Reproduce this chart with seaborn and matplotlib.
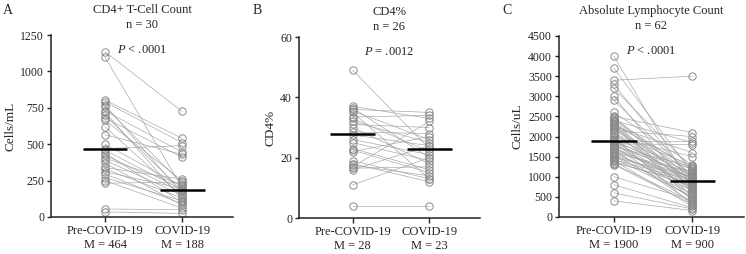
import numpy as np
import pandas as pd
import matplotlib
matplotlib.use("Agg")
import matplotlib.pyplot as plt
import seaborn as sns

# panel A - CD4+ T-cell count (cells/mL), paired pre / covid
cd4_pre = [1135, 1098, 803, 790, 770, 755, 730, 720, 700, 680, 665, 620, 565, 500, 470,
           458, 440, 425, 405, 390, 370, 340, 330, 310, 295, 270, 250, 232, 55, 35]
cd4_covid = [725, 200, 540, 510, 160, 230, 445, 120, 180, 410, 250, 140, 430, 210, 490,
             186, 100, 170, 220, 150, 80, 260, 130, 195, 90, 110, 60, 240, 50, 25]

# panel B - CD4%
pct_pre = [49, 37, 36.5, 36, 35.5, 35, 33.5, 33, 32, 31, 30, 28.5, 27.5, 26, 25, 23,
           22.5, 22, 19, 18, 17.5, 17, 16.5, 16, 11, 4]
pct_covid = [23, 33, 20, 35, 26, 13, 34, 22, 25, 30, 18, 28, 24, 21, 19, 16,
             15, 27, 13, 12, 14, 32, 17, 24, 20, 4]

# panel C - absolute lymphocyte count (cells/uL)
alc_pre = [4000, 3700, 3400, 3300, 3200, 3000, 2900, 2600, 2500, 2480, 2450, 2420, 2400,
           2380, 2350, 2320, 2300, 2280, 2250, 2220, 2200, 2180, 2150, 2100, 2080, 2050,
           2000, 1980, 1950, 1920, 1900, 1900, 1880, 1850, 1850, 1820, 1800, 1780, 1760,
           1750, 1720, 1700, 1680, 1650, 1620, 1600, 1580, 1550, 1520, 1500, 1480, 1450,
           1420, 1400, 1380, 1350, 1320, 1300, 1000, 800, 600, 400]
alc_covid = [700, 1100, 3500, 900, 1200, 600, 1000, 1300, 2100, 950, 800, 1150, 1850,
             500, 1080, 400, 1220, 880, 1600, 750, 1020, 930, 2000, 620, 1280, 850,
             1500, 300, 1180, 960, 680, 1900, 1100, 550, 940, 1800, 720, 1050, 450,
             1250, 900, 820, 350, 980, 650, 1120, 760, 480, 920, 580, 1000, 520,
             910, 270, 780, 860, 380, 320, 420, 230, 200, 160]

groups = ["Pre-COVID-19", "COVID-19"]
titles = ["CD4+ T-Cell Count", "CD4%", "Absolute Lymphocyte Count"]
ns = [30, 26, 62]
medians = [[464, 188], [28, 23], [1900, 900]]
p_texts = ["< .0001", "= .0012", "< .0001"]
ylabels = ["Cells/mL", "CD4%", "Cells/uL"]
yticks = [np.arange(0, 1251, 250), np.arange(0, 61, 20), np.arange(0, 4501, 500)]
letters = ["A", "B", "C"]

sns.set_style("ticks")
plt.rcParams["font.family"] = ["Liberation Serif", "DejaVu Serif"]
plt.rcParams["mathtext.fontset"] = "custom"
plt.rcParams["mathtext.it"] = "Liberation Serif:italic"
plt.rcParams["mathtext.rm"] = "Liberation Serif"

fig = plt.figure(figsize=(7.46, 2.54), dpi=100)
boxes = [[0.0684, 0.1457, 0.244, 0.7165],
         [0.4008, 0.1417, 0.2426, 0.7126],
         [0.7493, 0.1457, 0.2480, 0.7126]]
letter_x = [0.004, 0.338, 0.673]

line_grey = "#a3a3a3"
dot_grey = "#8a8a8a"
data = [(cd4_pre, cd4_covid), (pct_pre, pct_covid), (alc_pre, alc_covid)]

for i, (pre, post) in enumerate(data):
    ax = fig.add_axes(boxes[i])
    df = pd.DataFrame({
        "pid": list(range(len(pre))) * 2,
        "x": [0] * len(pre) + [1] * len(post),
        "y": list(pre) + list(post),
    })
    sns.lineplot(data=df, x="x", y="y", units="pid", estimator=None, ax=ax,
                 color=line_grey, lw=0.45, marker="o", ms=5.3, mfc="none",
                 mec=dot_grey, mew=0.7, clip_on=False, zorder=2)
    # median bars
    for j in range(2):
        ax.hlines(medians[i][j], j - 0.29, j + 0.29, color="black", lw=1.8, zorder=3)

    ax.set_xlim(-0.7, 1.66)
    ax.set_ylim(yticks[i][0], yticks[i][-1])
    ax.set_yticks(yticks[i])
    ax.set_xticks([0, 1])
    ax.set_xticklabels([f"{g}\nM = {m}" for g, m in zip(groups, medians[i])],
                       fontsize=9, linespacing=1.25)
    ax.tick_params(axis="y", labelsize=8.5, length=3, width=1, pad=2)
    ax.tick_params(axis="x", length=3.5, width=1, pad=2)
    ax.set_xlabel("")
    ax.set_ylabel(ylabels[i], fontsize=9.5, labelpad=3)
    for s in ["left", "bottom"]:
        ax.spines[s].set_linewidth(1.1)
        ax.spines[s].set_color("#222222")
    sns.despine(ax=ax)
    ax.set_title(f"{titles[i]}\nn = {ns[i]}", fontsize=9, pad=5, linespacing=1.3)
    ax.text(0.5, 0.915, f"$P$ {p_texts[i]}", transform=ax.transAxes,
            ha="center", va="center", fontsize=9)
    fig.text(letter_x[i], 0.958, letters[i], fontsize=10, va="center", ha="left")

fig.savefig("out.png", dpi=100)
